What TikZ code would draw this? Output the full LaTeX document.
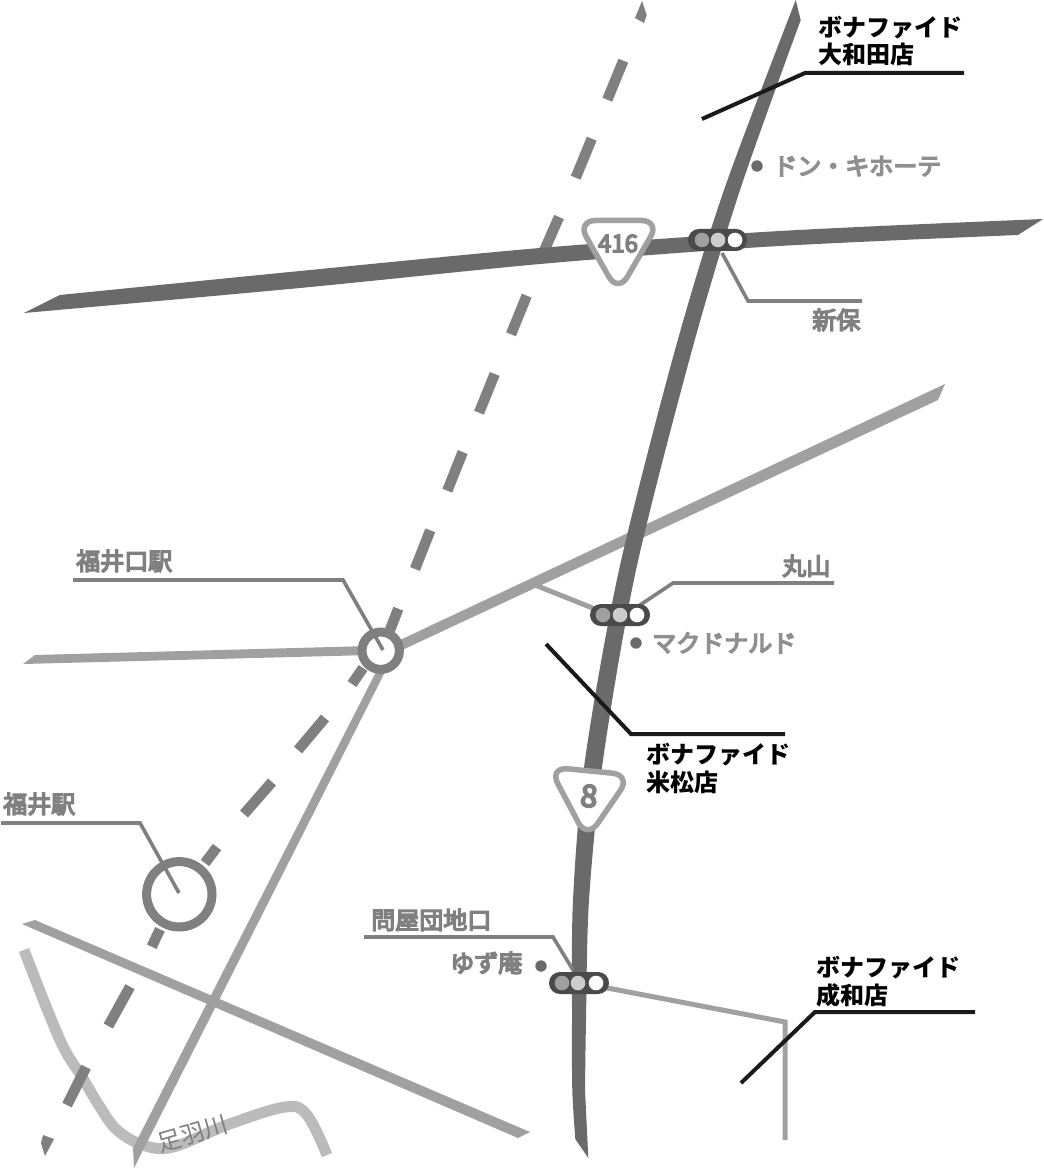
\documentclass[tikz,border=0pt]{standalone}
\usepackage{fontspec}
\setmainfont{Noto Sans CJK JP}
\newfontfamily\jpm[FakeBold=6]{Noto Sans CJK JP}
\definecolor{darkroad}{HTML}{6A6A6A}
\definecolor{lightroad}{HTML}{A0A0A0}
\definecolor{riverc}{HTML}{BBBBBB}
\definecolor{railc}{HTML}{808080}
\definecolor{leaderc}{HTML}{808080}
\definecolor{capsulec}{HTML}{4A4A4A}
\definecolor{blackc}{HTML}{1A1A1A}
\definecolor{labelc}{HTML}{808080}
\definecolor{paleL}{HTML}{8F8F8F}
\tikzset{
  rail/.style={draw=railc,line width=10.5*0.75pt},
  leader/.style={draw=leaderc,line width=3.6*0.75pt,line join=miter},
  shopline/.style={draw=blackc,line width=4*0.75pt,line join=miter},
  sideroad/.style={draw=lightroad,line width=5*0.75pt,line join=miter},
  ringm/.style={draw=railc,fill=white,line width=9*0.75pt},
  capsule/.style={fill=capsulec,rounded corners=8.2pt},
  lampa/.style={circle,fill=lightroad,inner sep=0,minimum size=14.6*0.75pt},
  lampb/.style={circle,fill=black!20,inner sep=0,minimum size=14.6*0.75pt},
  lampc/.style={circle,fill=white,inner sep=0,minimum size=14.6*0.75pt},
  poi/.style={circle,fill=darkroad,inner sep=0,minimum size=11.4*0.75pt},
  shoplabel/.style={anchor=base west,inner sep=0,text=black,align=left,font=\fontsize{18}{20.6}\selectfont\bfseries},
  grayl/.style={anchor=base west,inner sep=0,text=labelc,font=\jpm\fontsize{18}{20}\selectfont},
  paleg/.style={anchor=base west,inner sep=0,text=paleL,font=\jpm\fontsize{18}{20}\selectfont},
  sign/.style={draw=lightroad,fill=white,line width=5.5*0.75pt,rounded corners=14pt,line join=round},
}
\begin{document}
\begin{tikzpicture}[x=0.75pt,y=-0.75pt]
\useasboundingbox[fill=white] (0,0) rectangle (1043,1176);

% river
\draw[draw=riverc,line width=11*0.75pt] plot[smooth,tension=0.6] coordinates {(24,950) (60,1040) (82,1077) (100,1107) (117,1130) (143,1145) (173,1147) (227,1125) (285,1107) (307,1115) (327,1155)};

% railway dashes
\fill[railc] (642,1) -- (646.7,15) -- (644,23) -- (635,18) -- cycle;
\draw[rail] (623.3,60.7) -- (607.3,99.7);
\draw[rail] (591.7,138.7) -- (575.7,177.7);
\draw[rail] (559,217) -- (544,251);
\draw[rail] (526.7,295.7) -- (511,334.3);
\draw[rail] (494.7,374) -- (479,412.7);
\draw[rail] (462.7,452) -- (447.3,490.7);
\draw[rail] (430.3,530.3) -- (415,569);
\draw[rail] (398.3,608.7) -- (390,630);
\draw[rail] (363,668) -- (352,684);
\draw[rail] (325,718) -- (298,750);
\draw[rail] (272,782) -- (244,814);
\draw[rail] (217,847) -- (205,863);
\draw[rail] (160,929.3) -- (151.7,946.7);
\draw[rail] (130,986.7) -- (108.3,1026);
\draw[rail] (86,1067) -- (67,1105);
\fill[railc] (43,1135) -- (54,1139) -- (45,1156) -- (41,1143) -- cycle;

% light roads
\fill[lightroad] (23,664) -- (35,655) -- (370,646) -- (370,655) -- cycle;
\fill[lightroad] (400,640) -- (945,384) -- (938,400) -- (400,651) -- cycle;
\fill[lightroad] (377,670) -- (386,670) -- (134,1168) -- (133,1148) -- cycle;
\fill[lightroad] (22,924) -- (35,920) -- (530,1132) -- (518,1138) -- cycle;
\coordinate (sideA) at (597,986);
\coordinate (sideB) at (785,1022);
\coordinate (sideC) at (785,1140);
\draw[sideroad] (sideA) -- (sideB) -- (sideC);
\coordinate (sideD) at (535,585);
\coordinate (sideE) at (610,615);
\draw[sideroad] (sideD) -- (sideE);

% national roads
\fill[darkroad] plot[smooth,tension=0.5] coordinates {(60,295) (300,271) (540,248) (747,233) (880,226) (1043,219)}
  -- plot[smooth,tension=0.5] coordinates {(1018,235) (880,241) (747,248) (540,264) (300,288) (24,313)} -- cycle;
\fill[darkroad] plot[smooth,tension=0.5] coordinates {(795.7,0) (724,190) (675,350) (619,570) (585,760) (573,900) (572,1020) (572.3,1090) (575.3,1139)}
  -- (588.3,1158) -- plot[smooth,tension=0.5] coordinates {(585,1090) (586,1020) (589,900) (603,760) (636,570) (692,350) (740,190) (800.7,20)} -- cycle;

% stations
\node[ringm,circle,minimum size=37.4*0.75pt,inner sep=0] (eki1) at (380.7,650.7) {};
\node[ringm,circle,minimum size=65.4*0.75pt,inner sep=0] (eki2) at (179.3,894.3) {};

% signs
\draw[sign] (577,220.5) -- (660,220.5) -- (618,293) -- cycle;
\node[inner sep=0,text=railc,font=\jpm\fontsize{18}{20}\selectfont] (n416) at (618,243.5) {416};
\draw[sign] (549,767) -- (631,775) -- (587,839) -- cycle;
\node[inner sep=0,text=railc,rotate=-5,font=\jpm\fontsize{23}{25}\selectfont] (n8) at (589,796) {8};

% leaders
\coordinate (l1a) at (73,580); \coordinate (l1b) at (343,580); \coordinate (l1c) at (383,650);
\draw[leader] (l1a) -- (l1b) -- (l1c);
\coordinate (l2a) at (1,823); \coordinate (l2b) at (140,823); \coordinate (l2c) at (179,893);
\draw[leader] (l2a) -- (l2b) -- (l2c);
\coordinate (l3a) at (862,301); \coordinate (l3b) at (748,301); \coordinate (l3c) at (722,253);
\draw[leader] (l3a) -- (l3b) -- (l3c);
\coordinate (l4a) at (834,583); \coordinate (l4b) at (673,583); \coordinate (l4c) at (640,605);
\draw[leader] (l4a) -- (l4b) -- (l4c);
\coordinate (l5a) at (364,937); \coordinate (l5b) at (553,937); \coordinate (l5c) at (573,970);
\draw[leader] (l5a) -- (l5b) -- (l5c);

% signals
\fill[capsule] (688,229) rectangle (747,251);
\node[lampa] (s1a) at (702,240) {}; \node[lampb] (s1b) at (718,240) {}; \node[lampc] (s1c) at (735,240) {};
\fill[capsule] (590,604) rectangle (650,626);
\node[lampa] (s2a) at (603,615) {}; \node[lampb] (s2b) at (620,615) {}; \node[lampc] (s2c) at (637,615) {};
\fill[capsule] (549,972) rectangle (609,994);
\node[lampa] (s3a) at (562,983) {}; \node[lampb] (s3b) at (578,983) {}; \node[lampc] (s3c) at (596,983) {};

% shop leaders
\coordinate (b1a) at (964,73); \coordinate (b1b) at (805,73); \coordinate (b1c) at (702,119);
\draw[shopline] (b1a) -- (b1b) -- (b1c);
\coordinate (b2a) at (785,734); \coordinate (b2b) at (631,734); \coordinate (b2c) at (546,644);
\draw[shopline] (b2a) -- (b2b) -- (b2c);
\coordinate (b3a) at (975,1012); \coordinate (b3b) at (815,1012); \coordinate (b3c) at (741,1083);
\draw[shopline] (b3a) -- (b3b) -- (b3c);

% points of interest
\node[poi] (p1) at (757,166) {};
\node[poi] (p2) at (636,643) {};
\node[poi] (p3) at (541,966) {};

% labels
\node[shoplabel] (t1) at (818,64) {ボナファイド\\大和田店};
\node[shoplabel] (t2) at (646,791) {ボナファイド\\米松店};
\node[shoplabel] (t3) at (816,1004) {ボナファイド\\成和店};
\node[paleg] (t4) at (773,175) {ドン・キホーテ};
\node[paleg] (t5) at (652,652) {マクドナルド};
\node[grayl] (t6) at (812,329) {新保};
\node[grayl] (t7) at (76,570) {福井口駅};
\node[grayl] (t8) at (3,813) {福井駅};
\node[grayl] (t9) at (782,575) {丸山};
\node[grayl] (t10) at (371,929) {問屋団地口};
\node[grayl] (t11) at (450,972) {ゆず庵};
\node[inner sep=0,text=labelc,rotate=16,font=\fontsize{18}{20}\selectfont] (t12) at (193,1134) {足羽川};
\end{tikzpicture}
\end{document}
